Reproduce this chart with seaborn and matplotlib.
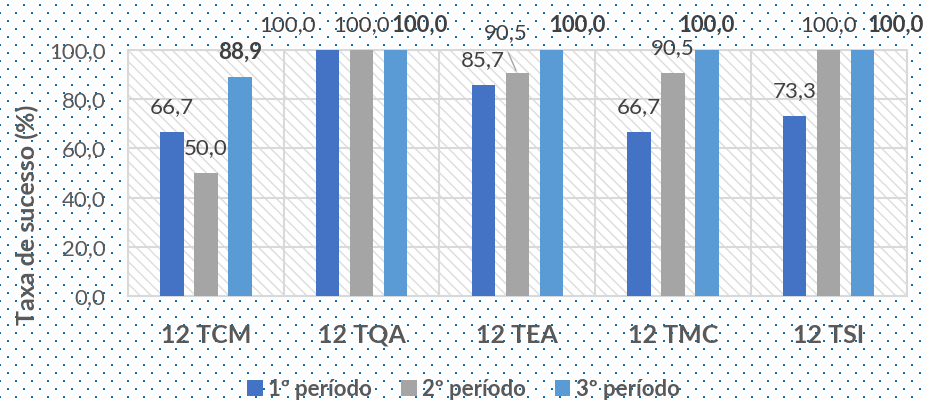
import pandas as pd
import numpy as np
import matplotlib
matplotlib.use("Agg")
import matplotlib.pyplot as plt
from matplotlib.patches import Rectangle
import seaborn as sns

# dados
turmas = ["12 TCM", "12 TQA", "12 TEA", "12 TMC", "12 TSI"]
periodos = ["1º período", "2º período", "3º período"]
p1 = [66.7, 100.0, 85.7, 66.7, 73.3]
p2 = [50.0, 100.0, 90.5, 90.5, 100.0]
p3 = [88.9, 100.0, 100.0, 100.0, 100.0]
cores = ["#4472c4", "#a5a5a5", "#5b9bd5"]
yticks = [0, 20, 40, 60, 80, 100]

df = pd.DataFrame({
    "turma": turmas * 3,
    "periodo": [periodos[0]] * 5 + [periodos[1]] * 5 + [periodos[2]] * 5,
    "taxa": p1 + p2 + p3,
})

sns.set_style("white")
plt.rcParams["font.family"] = ["Lato", "DejaVu Sans"]
plt.rcParams["hatch.linewidth"] = 1.0

fig = plt.figure(figsize=(9.27, 4.0), dpi=100)

# fundo pontilhado (textura da área do gráfico)
bg = fig.add_axes([0, 0, 1, 1])
bg.set_xlim(0, 927)
bg.set_ylim(400, 0)
bg.axis("off")
for k, yy in enumerate(np.arange(5, 400, 8)):
    xs = np.arange(0 if k % 2 else 8, 927, 16)
    bg.scatter(xs, np.full(len(xs), yy), s=4.5, marker="s", color="#0070c0",
               linewidths=0)

ax = fig.add_axes([0.138, 0.26, 0.84, 0.615])
ax.set_facecolor("white")
plt.rcParams["hatch.color"] = "#d9d9d9"
ax.add_patch(Rectangle((0, 0), 1, 1, transform=ax.transAxes, facecolor="white",
                       edgecolor="#dcdcdc", hatch="\\\\\\", lw=0, zorder=0))

sns.barplot(data=df, x="turma", y="taxa", hue="periodo", palette=cores,
            saturation=1, width=0.655, gap=0.31, linewidth=0, ax=ax,
            zorder=3, legend=True)

ax.set_ylim(0, 100)
ax.set_xlim(-0.5, 4.5)
ax.set_yticks(yticks)
ax.set_yticklabels([f"{v:.1f}".replace(".", ",") for v in yticks],
                   fontsize=16, color="#595959")
ax.set_xticks(range(5))
ax.set_xticklabels(turmas, fontsize=18, fontweight="bold", color="#595959")
ax.set_xticks(np.arange(-0.5, 5, 1), minor=True)
ax.tick_params(axis="y", length=0, pad=16)
ax.tick_params(axis="x", which="both", length=0, pad=20)
ax.grid(axis="y", color="#d9d9d9", lw=1.5, zorder=1)
ax.grid(axis="x", which="minor", color="#d9d9d9", lw=1.5, zorder=1)
for s in ax.spines.values():
    s.set_color("#d9d9d9")
    s.set_linewidth(1.5)
ax.set_xlabel("")
ax.set_ylabel("Taxa de sucesso (%)", fontsize=18, fontweight="bold",
              color="#595959")
ax.yaxis.set_label_coords(-0.114, 0.33)

# rótulos (deslocamentos em pixels, como no original)
desloc = {(1, 0): (-40, 0), (1, 2): (24, 0), (2, 1): (-12, 15),
          (2, 2): (26, 0), (4, 2): (33, 0)}
for j, cont in enumerate(ax.containers):
    for i, bar in enumerate(cont):
        v = bar.get_height()
        dx, dy = desloc.get((i, j), (0, 0))
        xc = bar.get_x() + bar.get_width() / 2
        ax.annotate(f"{v:.1f}".replace(".", ","), (xc, v),
                    xytext=(dx, 25 + dy), textcoords="offset pixels",
                    ha="center", va="center", fontsize=16, color="#404040",
                    fontweight="bold" if j == 2 else "normal",
                    annotation_clip=False, zorder=5)
        if (i, j) == (2, 1):
            ax.annotate("", (xc, v), xytext=(-10, 23), textcoords="offset pixels",
                        arrowprops=dict(arrowstyle="-", color="#a5a5a5", lw=1),
                        annotation_clip=False)

handles, labels = ax.get_legend_handles_labels()
ax.legend_.remove()
fig.legend(handles, labels, loc="lower center", bbox_to_anchor=(0.5, -0.05),
           ncol=3, frameon=False, handlelength=0.7, handleheight=0.7,
           handletextpad=0.25, columnspacing=1.3,
           prop={"size": 16, "weight": "bold"}, labelcolor="#595959")

fig.savefig("out.png", dpi=100)
